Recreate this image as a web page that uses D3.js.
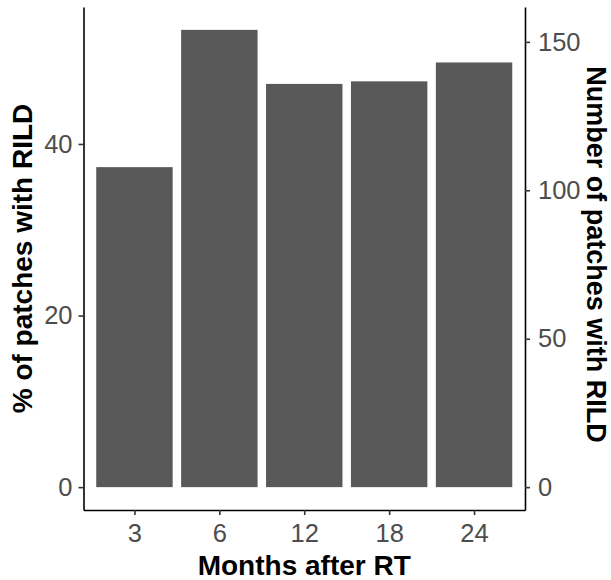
<!DOCTYPE html>
<html>
<head>
<meta charset="utf-8">
<script src="https://cdn.jsdelivr.net/npm/d3@7"></script>
<style>
  body { margin: 0; background: #fff; }
  svg { font-family: "Liberation Sans", Arial, sans-serif; }
</style>
</head>
<body>
<svg width="611" height="580"></svg>
<script>
// данные
const months = ["3", "6", "12", "18", "24"];
const pctValues = [37.3, 53.3, 47.0, 47.3, 49.5];
const leftTicks = [0, 20, 40];
const rightTicks = [0, 50, 100, 150];
const totalPatches = 289; // 100% на правой оси

const svg = d3.select("svg");
const area = { left: 83.5, right: 525, top: 7, bottom: 510 };

const maxVal = d3.max(pctValues);
const scaleY = d3
  .scaleLinear()
  .domain([-0.05 * maxVal, maxVal * 1.05])
  .range([area.bottom, area.top]);

const scaleYRight = d3
  .scaleLinear()
  .domain(scaleY.domain().map((d) => (d * totalPatches) / 100))
  .range(scaleY.range());

const scaleX = d3
  .scalePoint()
  .domain(months)
  .range([area.left, area.right])
  .padding(0.6);

const barW = scaleX.step() * 0.9;

svg
  .append("g")
  .selectAll("rect")
  .data(months.map((m, i) => ({ label: m, value: pctValues[i] })))
  .enter()
  .append("rect")
  .attr("x", (d) => scaleX(d.label) - barW / 2)
  .attr("y", (d) => scaleY(d.value))
  .attr("width", barW)
  .attr("height", (d) => scaleY(0) - scaleY(d.value))
  .style("fill", "#595959");

function styleAxis(g) {
  g.select(".domain").attr("stroke", "#000").attr("stroke-width", 1.6);
  g.selectAll(".tick line").attr("stroke", "#333").attr("stroke-width", 1.6);
  g.selectAll(".tick text")
    .attr("fill", "#4d4d4d")
    .style("font-size", "25.5px")
    .style("font-family", "Liberation Sans, Arial, sans-serif");
}

svg
  .append("g")
  .attr("transform", `translate(${area.left}, 0)`)
  .call(d3.axisLeft(scaleY).tickValues(leftTicks).tickSize(5).tickSizeOuter(0).tickPadding(6))
  .call(styleAxis);

svg
  .append("g")
  .attr("transform", `translate(${area.right}, 0)`)
  .call(d3.axisRight(scaleYRight).tickValues(rightTicks).tickSize(5).tickSizeOuter(0).tickPadding(8))
  .call(styleAxis);

svg
  .append("g")
  .attr("transform", `translate(0, ${area.bottom})`)
  .call(d3.axisBottom(scaleX).tickSize(5).tickSizeOuter(0).tickPadding(9))
  .call(styleAxis);

// подписи осей
const midY = (area.top + area.bottom) / 2;

svg
  .append("text")
  .attr("transform", `translate(32, ${midY}) rotate(-90)`)
  .attr("text-anchor", "middle")
  .style("font-size", "28px")
  .style("font-weight", "bold")
  .text("% of patches with RILD");

svg
  .append("text")
  .attr("transform", `translate(587, ${midY - 4}) rotate(90)`)
  .attr("text-anchor", "middle")
  .style("font-size", "27px")
  .style("font-weight", "bold")
  .text("Number of patches with RILD");

svg
  .append("text")
  .attr("x", (area.left + area.right) / 2)
  .attr("y", 575)
  .attr("text-anchor", "middle")
  .style("font-size", "28px")
  .style("font-weight", "bold")
  .text("Months after RT");
</script>
</body>
</html>
